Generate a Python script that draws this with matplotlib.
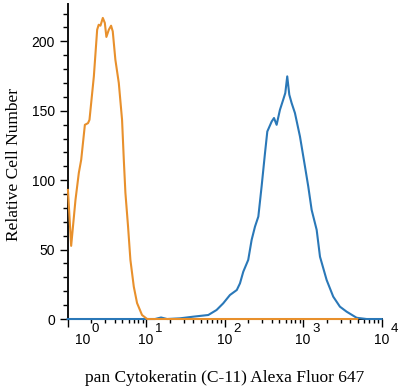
import matplotlib
matplotlib.use("Agg")
import matplotlib.pyplot as plt
import numpy as np
from matplotlib.ticker import FixedLocator, LogLocator, NullFormatter

# control (orange) histogram
ctrl_x = [1.01, 1.11, 1.26, 1.39, 1.49, 1.66, 1.82, 1.90, 2.16, 2.38, 2.49, 2.62,
          2.81, 2.98, 3.12, 3.35, 3.58, 3.76, 4.06, 4.49, 4.94, 5.20, 5.45, 5.89,
          6.31, 6.97, 7.67, 8.87, 10.3, 4900]
ctrl_y = [93.0, 52.7, 85.8, 105.3, 114.7, 139.9, 141.1, 143.5, 174.8, 208.4, 212.0, 211.3,
          216.9, 213.3, 203.2, 208.4, 211.3, 207.2, 186.8, 170.0, 143.5, 114.7, 90.9, 66.6,
          42.6, 23.3, 11.5, 2.9, 0.0, 0.0]

# pan Cytokeratin (blue) histogram
pck_x = [1.0, 13.0, 15.5, 18.5, 27, 40, 62, 79, 96, 117, 143, 157, 173, 200, 221, 244,
         269, 296, 327, 350, 398, 426, 460, 507, 558, 593, 628, 667, 714, 787, 912,
         1057, 1164, 1285, 1489, 1641, 1995, 2421, 2944, 3581, 4808, 6442, 10000]
pck_y = [0.0, 0.0, 1.1, 0.0, 0.5, 1.7, 2.9, 6.5, 11.3, 17.3, 20.9, 25.7, 34.1, 42.6, 57.0, 66.6,
         73.8, 95.4, 119.5, 135.1, 142.3, 144.8, 139.9, 150.7, 158.0, 162.8, 174.8, 161.6, 155.6, 148.4, 131.5,
         109.8, 95.4, 78.6, 64.2, 44.9, 28.1, 16.1, 8.9, 5.3, 0.9, 0.0, 0.0]

decades = [0, 1, 2, 3, 4]
yticks = [0, 50, 100, 150, 200]

fig = plt.figure(figsize=(4.0, 3.9), dpi=100)
ax = fig.add_axes([0.169, 0.182, 0.785, 0.808])

ax.plot(pck_x, pck_y, color="#2a78b8", lw=1.5, zorder=3, clip_on=False)
ax.plot(ctrl_x, ctrl_y, color="#e8902c", lw=1.5, zorder=4, clip_on=False)

ax.set_xscale("log")
ax.set_xlim(1, 1e4)
ax.set_ylim(0, 227)

for s in ["top", "right"]:
    ax.spines[s].set_visible(False)
for s in ["left", "bottom"]:
    ax.spines[s].set_linewidth(1.4)
    ax.spines[s].set_color("#111111")
    ax.spines[s].set_zorder(2)

ax.yaxis.set_major_locator(FixedLocator(yticks))
ax.yaxis.set_minor_locator(FixedLocator(np.arange(0, 230, 10)))
ax.set_yticklabels([str(v) for v in yticks], fontfamily="Liberation Sans", fontsize=10)
ax.tick_params(axis="y", which="major", length=6, width=1.0, pad=3)
ax.tick_params(axis="y", which="minor", length=3.6, width=1.0)

ax.xaxis.set_major_locator(FixedLocator([10 ** d for d in decades]))
ax.xaxis.set_minor_locator(LogLocator(base=10, subs=np.arange(2, 10)))
ax.xaxis.set_major_formatter(NullFormatter())
ax.xaxis.set_minor_formatter(NullFormatter())
ax.tick_params(axis="x", which="major", length=5.5, width=1.0)
ax.tick_params(axis="x", which="minor", length=3.2, width=1.0)

# x tick labels as 10 with a raised exponent
for d in decades:
    dx = 11 if d == 0 else 0
    ax.annotate("10", xy=(10 ** d, 0), xycoords=("data", "axes fraction"),
                xytext=(dx, -10), textcoords="offset points", ha="center", va="top",
                fontfamily="Liberation Sans", fontsize=10)
    ax.annotate(str(d), xy=(10 ** d, 0), xycoords=("data", "axes fraction"),
                xytext=(dx + 6.5, -3), textcoords="offset points", ha="left", va="top",
                fontfamily="Liberation Sans", fontsize=9.5)

fig.text(0.5615, 0.031, "pan Cytokeratin (C-11) Alexa Fluor 647", ha="center", va="center",
         fontfamily="Liberation Serif", fontsize=12.5)
fig.text(0.035, 0.577, "Relative Cell Number", ha="center", va="center", rotation=90,
         fontfamily="Liberation Serif", fontsize=12.5)

fig.savefig("out.png", dpi=100)
